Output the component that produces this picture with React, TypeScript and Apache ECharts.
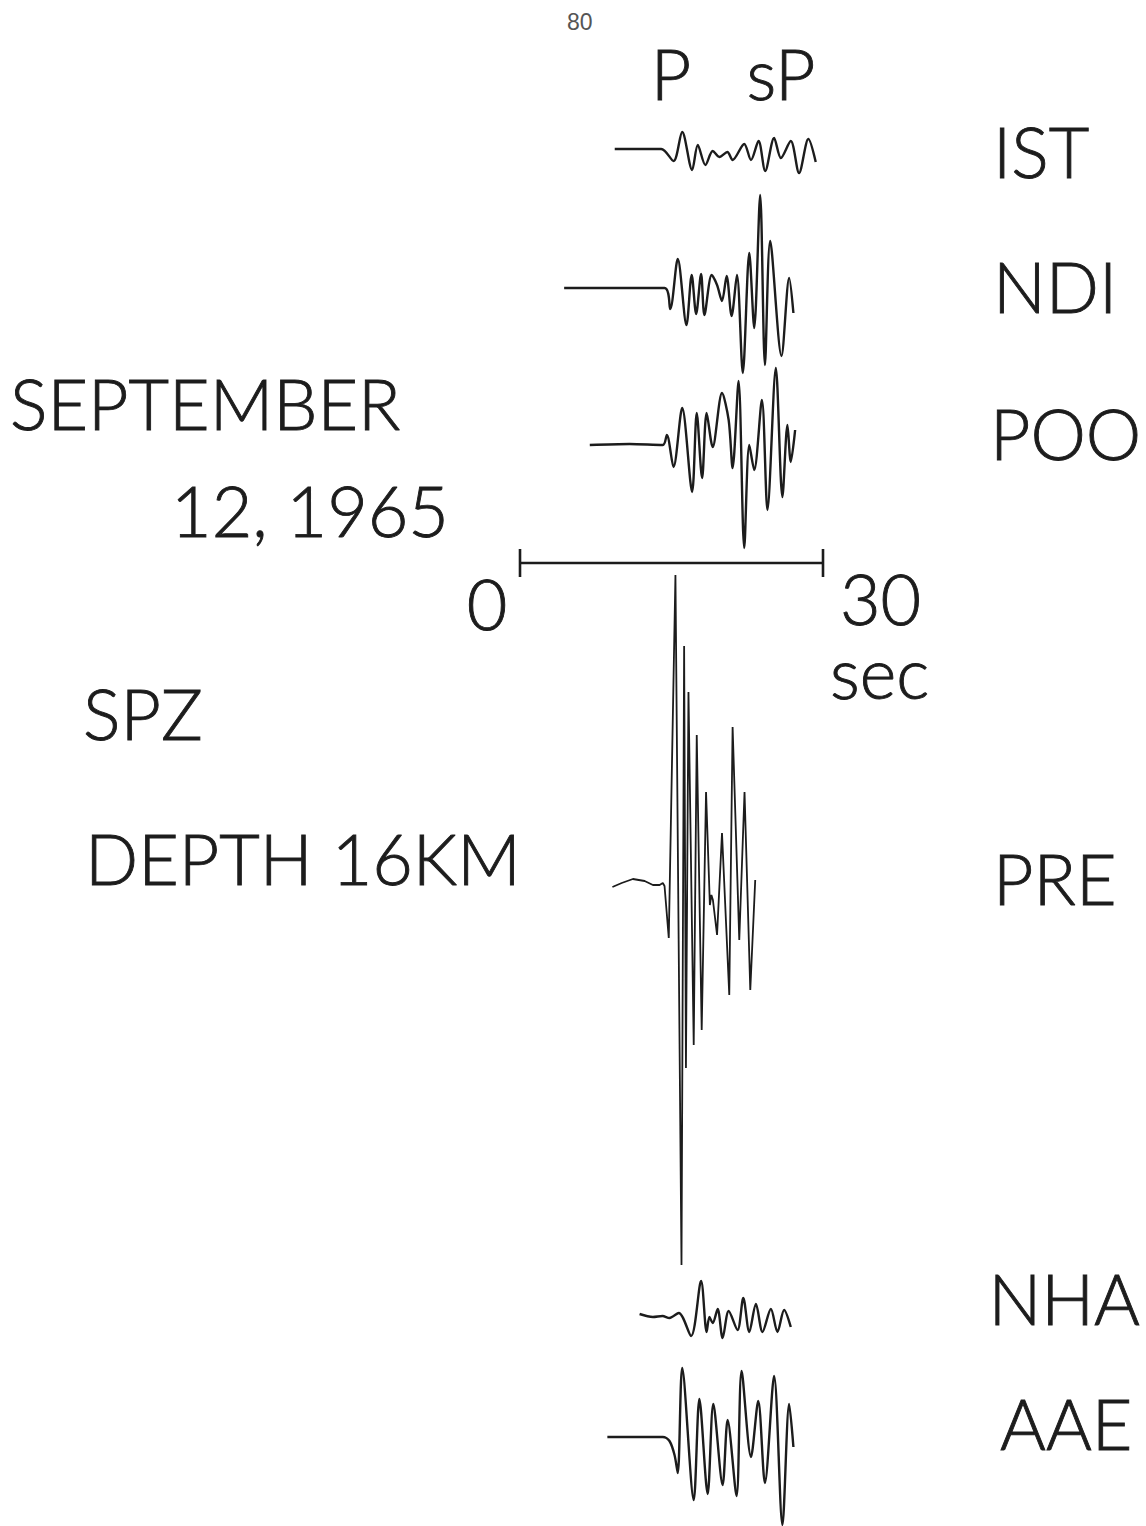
import React, { useEffect, useRef } from "react";
import * as echarts from "echarts";

// Time (s) and amplitude (px-equivalent trace units, up positive) for each station trace
const istT = [9.38, 13.98, 15.2, 16.06, 17.04, 17.6, 18.36, 19.08, 19.74, 20.53, 21.05, 22.2, 22.87, 23.62, 24.28, 25.16, 25.83, 26.81, 27.63, 28.55, 29.28];
const istA = [0, 0, -12, 17, -21, 4, -16, -2, -8, -3, -11, 5, -11, 8, -22, 11, -9, 8, -24, 10, -13];

const ndiT = [4.37, 14.31, 14.87, 15.62, 16.48, 17.0, 17.44, 17.93, 18.26, 18.98, 19.51, 20.0, 20.46, 20.95, 21.48, 22.06, 22.7, 23.19, 23.78, 24.25, 24.77, 25.89, 26.65, 27.07];
const ndiA = [0, 0, -21, 29, -37, 13, -26, 14, -27, 13, 3, -13, 12, -28, 13, -85, 35, -40, 93, -77, 47, -68, 10, -25];

const pooT = [6.91, 10.86, 14.14, 14.54, 15.2, 16.06, 17.04, 17.5, 18.03, 18.48, 19.08, 20.0, 20.66, 21.05, 21.64, 22.2, 22.7, 23.19, 23.95, 24.5, 25.33, 25.98, 26.48, 26.81, 27.24];
const pooA = [0, 1, 0, 10, -22, 37, -47, 32, -33, 32, -2, 52, 25, -23, 64, -103, 0, -25, 45, -65, 77, -52, 20, -17, 15];

const preT = [9.15, 10.07, 11.18, 12.34, 13.16, 13.82, 14.14, 14.31, 14.73, 15.39, 15.99, 16.25, 16.43, 16.68, 17.2, 17.5, 17.99, 18.42, 18.8, 18.95, 19.1, 19.51, 20.0, 20.72, 21.05, 21.71, 22.23, 22.8, 23.29];
const preA = [-2, 2, 6, 4, 0, 0, 2, -1, -53, 310, -380, 239, -183, 193, -160, 150, -145, 93, -20, -10, -15, -50, 52, -110, 158, -55, 93, -105, 5];

const nhaT = [11.84, 13.16, 14.11, 14.8, 15.72, 16.94, 17.93, 18.48, 18.75, 19.08, 19.57, 20.06, 20.66, 21.54, 22.11, 22.7, 23.36, 24.01, 24.84, 25.49, 26.15, 26.81];
const nhaA = [2, -1, 0, -2, 3, -20, 35, -16, -1, -7, 7, -22, 5, -14, 18, -16, 12, -16, 7, -16, 6, -11];

const aaeT = [8.65, 14.14, 14.8, 15.3, 15.62, 16.06, 17.2, 17.76, 18.58, 19.14, 20.06, 20.56, 21.44, 21.94, 22.87, 23.59, 24.25, 25.16, 25.98, 26.65, 27.07];
const aaeA = [0, 0, -4, -18, -36, 69, -63, 38, -57, 33, -48, 17, -59, 66, -20, 36, -46, 61, -88, 33, -10];

const stations = ["IST", "NDI", "POO", "PRE", "NHA", "AAE"];
const scaleBarSec = [0, 30];

// Layout (vertical placement of each trace baseline on the page axis)
const layout: Record<string, { base: number; smooth: number | boolean; width: number }> = {
  IST: { base: 149, smooth: 0.3, width: 2.4 },
  NDI: { base: 288, smooth: 0.3, width: 2.4 },
  POO: { base: 445, smooth: 0.3, width: 2.4 },
  PRE: { base: 885, smooth: false, width: 1.8 },
  NHA: { base: 1316, smooth: 0.3, width: 2.4 },
  AAE: { base: 1437, smooth: 0.3, width: 2.4 },
};
const traces: Record<string, [number[], number[]]> = {
  IST: [istT, istA],
  NDI: [ndiT, ndiA],
  POO: [pooT, pooA],
  PRE: [preT, preA],
  NHA: [nhaT, nhaA],
  AAE: [aaeT, aaeA],
};

const INK = "#1c1c1c";
const FONT = "Lato, 'DejaVu Sans', sans-serif";

export default function App() {
  const ref = useRef<HTMLDivElement>(null);
  useEffect(() => {
    if (!ref.current) return;
    const chart = echarts.init(ref.current, undefined, { renderer: "svg" });
    const series: any[] = stations.map((s) => {
      const [t, a] = traces[s];
      const L = layout[s];
      return {
        name: s,
        type: "line",
        data: t.map((x, i) => [x, L.base - a[i]]),
        showSymbol: false,
        smooth: L.smooth,
        clip: false,
        lineStyle: { color: INK, width: L.width },
        silent: true,
      };
    });
    const barY = 563;
    series.push({
      type: "line",
      data: scaleBarSec.map((s) => [s, barY]),
      showSymbol: false,
      clip: false,
      lineStyle: { color: INK, width: 2.6 },
    });
    scaleBarSec.forEach((s) => {
      series.push({
        type: "line",
        data: [
          [s, barY - 14],
          [s, barY + 14],
        ],
        showSymbol: false,
        clip: false,
        lineStyle: { color: INK, width: 2.6 },
      });
    });

    const txt = (text: string, x: number, y: number, align = "left", extra: any = {}) => ({
      type: "text",
      x,
      y,
      style: {
        text,
        fontFamily: FONT,
        fontSize: 70,
        fontWeight: 300,
        fill: INK,
        stroke: INK,
        lineWidth: 0.9,
        lineHeight: 56,
        textAlign: align,
        textVerticalAlign: "middle",
        ...extra,
      },
    });

    chart.setOption({
      animation: false,
      backgroundColor: "#ffffff",
      grid: { left: 520, top: 0, width: 303, height: 1526 },
      xAxis: { type: "value", min: 0, max: 30, show: false },
      yAxis: { type: "value", min: 0, max: 1526, inverse: true, show: false },
      series,
      graphic: [
        txt("80", 567, 22, "left", {
          fontFamily: "'Liberation Sans', Arial, sans-serif",
          fontWeight: 400,
          fontSize: 23,
          lineHeight: 24,
          fill: "#555",
          stroke: null,
          lineWidth: 0,
        }),
        txt("P", 671, 73, "center"),
        txt("sP", 781, 73, "center"),
        txt("IST", 993, 151),
        txt("NDI", 993, 286),
        txt("POO", 990, 433),
        txt("SEPTEMBER", 10, 403),
        txt("12, 1965", 310, 510, "center"),
        txt("0", 487, 603, "center"),
        txt("30", 840, 598),
        txt("sec", 830, 672),
        txt("SPZ", 83, 713),
        txt("DEPTH 16KM", 85, 858),
        txt("PRE", 993, 878),
        txt("NHA", 1140, 1298, "right"),
        txt("AAE", 1000, 1423),
      ],
    });
    return () => chart.dispose();
  }, []);
  return (
    <div
      ref={ref}
      style={{ position: "absolute", left: 0, top: 0, width: 1146, height: 1526 }}
    />
  );
}
